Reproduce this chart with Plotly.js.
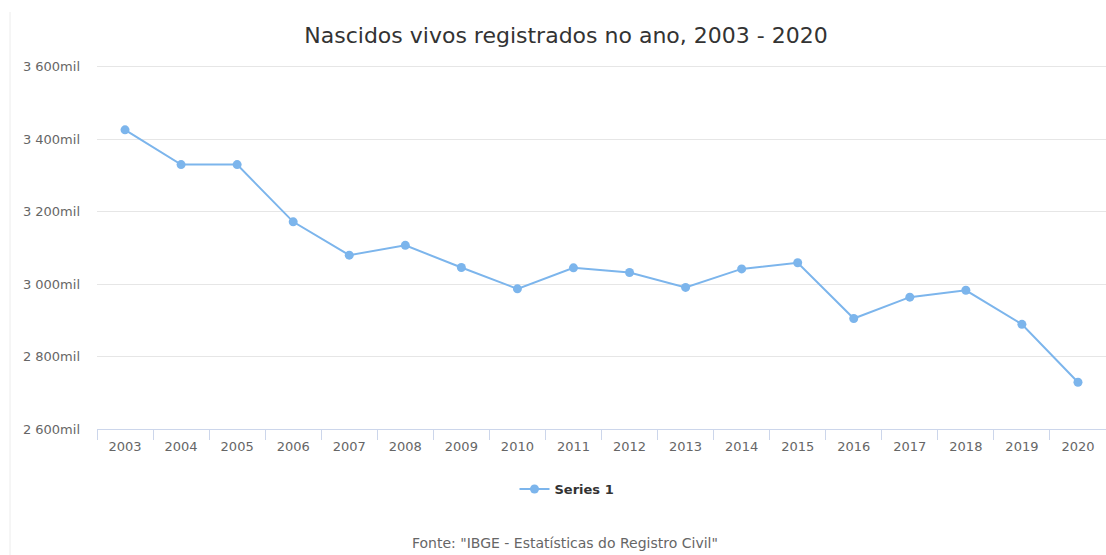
<!DOCTYPE html>
<html>
<head>
<meta charset="utf-8">
<script src="https://cdn.plot.ly/plotly-3.0.1.min.js"></script>
<style>
  html, body { margin: 0; padding: 0; background: #fff; }
  #chart { width: 1106px; height: 555px; }
</style>
</head>
<body>
<div id="chart"></div>
<script>
const years = ["2003","2004","2005","2006","2007","2008","2009","2010","2011","2012","2013","2014","2015","2016","2017","2018","2019","2020"];
const births = [3426, 3330, 3330, 3172, 3080, 3107, 3046, 2987, 3045, 3032, 2991, 3042, 3059, 2905, 2964, 2983, 2889, 2729];
const yTickVals = [2600, 2800, 3000, 3200, 3400, 3600];
const yTickText = ["2 600mil", "2 800mil", "3 000mil", "3 200mil", "3 400mil", "3 600mil"];
const seriesName = "Series 1";
const titleText = "Nascidos vivos registrados no ano, 2003 - 2020";
const sourceText = "Fonte: \"IBGE - Estatísticas do Registro Civil\"";

const FONT = "'DejaVu Sans', Verdana, sans-serif";

const trace = {
  type: "scatter",
  mode: "lines+markers",
  x: years,
  y: births,
  name: seriesName,
  line: { color: "#7cb5ec", width: 2 },
  marker: { color: "#7cb5ec", size: 9 },
  showlegend: true
};

const PH = 364; // plot height in px

const layout = {
  width: 1106,
  height: 555,
  margin: { l: 97, r: 0, t: 65, b: 126 },
  paper_bgcolor: "#ffffff",
  plot_bgcolor: "#ffffff",
  font: { family: FONT, color: "#666666", size: 13 },
  title: {
    text: titleText,
    font: { family: FONT, size: 22, color: "#333333" },
    xref: "paper",
    x: (566 - 97) / 1009, xanchor: "center",
    y: 1 - 35 / 555, yanchor: "middle"
  },
  xaxis: {
    type: "category",
    range: [-0.5, 17.5],
    tickson: "boundaries",
    ticks: "outside",
    ticklen: 10,
    tickcolor: "#ccd6eb",
    tickwidth: 1,
    showline: true,
    linecolor: "#ccd6eb",
    linewidth: 1,
    showgrid: false,
    zeroline: false,
    ticklabelstandoff: 5,
    tickfont: { family: FONT, size: 13, color: "#666666" },
    fixedrange: true
  },
  yaxis: {
    range: [2600, 3605],
    tickvals: yTickVals,
    ticktext: yTickText,
    showgrid: true,
    gridcolor: "#e6e6e6",
    gridwidth: 1,
    zeroline: false,
    showline: false,
    ticks: "",
    ticklabelstandoff: 16,
    tickfont: { family: FONT, size: 13, color: "#666666" },
    fixedrange: true
  },
  showlegend: true,
  legend: {
    orientation: "h",
    x: (567 - 97) / 1009, xanchor: "center",
    y: (429 - 489) / PH, yanchor: "middle",
    font: { family: FONT, size: 13, color: "#333333", weight: "bold" },
    bgcolor: "rgba(0,0,0,0)"
  },
  annotations: [{
    text: sourceText,
    xref: "paper", yref: "paper",
    x: (565 - 97) / 1009, xanchor: "center",
    y: (429 - 543) / PH, yanchor: "middle",
    showarrow: false,
    font: { family: FONT, size: 14, color: "#666666" }
  }],
  shapes: [{
    type: "line",
    xref: "paper", yref: "paper",
    x0: (10 - 97) / 1009, x1: (10 - 97) / 1009,
    y0: (429 - 12) / PH, y1: (429 - 560) / PH,
    line: { color: "#ececec", width: 1 }
  }]
};

Plotly.newPlot("chart", [trace], layout, { displayModeBar: false, staticPlot: true });
</script>
</body>
</html>
